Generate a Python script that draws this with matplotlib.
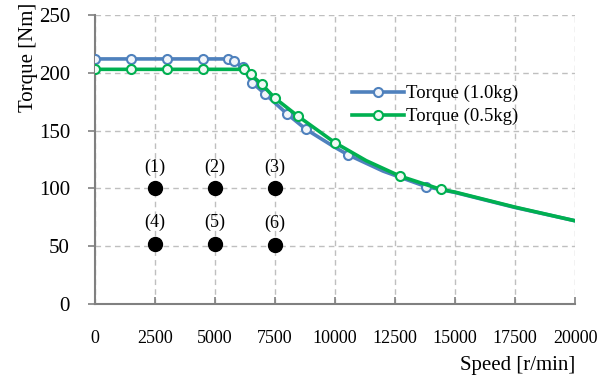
import matplotlib
matplotlib.use('Agg')
import matplotlib.pyplot as plt

# values
speed_10 = [0, 1500, 3000, 4500, 5550, 5800, 6150, 6550, 7100, 8000, 8800, 10000, 10550, 12000, 13800, 15000, 17500, 20000]
torque_10 = [212, 212, 212, 212, 212, 210, 205, 191.5, 181.5, 164.5, 151, 135.5, 129, 115, 101.5, 96.5, 83.5, 72]
marks_10 = [0, 1, 2, 3, 4, 5, 6, 7, 8, 9, 10, 12, 14]

speed_05 = [0, 1500, 3000, 4500, 6200, 6480, 6950, 7500, 8450, 10000, 11300, 12700, 14400, 15000, 17500, 20000]
torque_05 = [203, 203, 203, 203, 203, 198.7, 190, 178, 162.6, 139.5, 124, 110.7, 99.2, 96.8, 83.8, 72]
marks_05 = [0, 1, 2, 3, 4, 5, 6, 7, 8, 9, 11, 12]

pt_x = [2500, 5000, 7500, 2500, 5000, 7500]
pt_y = [100, 100, 100, 52, 52, 51]
pt_labels = ['(1)', '(2)', '(3)', '(4)', '(5)', '(6)']

plt.rcParams['font.family'] = ['Liberation Serif', 'DejaVu Serif']

fig = plt.figure(figsize=(6.06, 3.78), dpi=100)
ax = fig.add_axes([95/606, 1-304/378, 480/606, 289/378])

blue = '#4f81bd'
green = '#00b050'
ax.plot(speed_10, torque_10, color=blue, lw=2.6, marker='o', ms=6.5, mfc='#f2f5fa',
        mec=blue, mew=1.5, markevery=marks_10, label='Torque (1.0kg)', zorder=3)
ax.plot(speed_05, torque_05, color=green, lw=2.6, marker='o', ms=6.5, mfc='#f0faf4',
        mec=green, mew=1.5, markevery=marks_05, label='Torque (0.5kg)', zorder=4)

ax.plot(pt_x, pt_y, 'o', color='black', ms=10, zorder=5)
for x, y, t in zip(pt_x, pt_y, pt_labels):
    ax.text(x, y + 11, t, ha='center', va='bottom', fontsize=13)

ax.set_xlim(0, 20000)
ax.set_ylim(0, 250)
ax.set_xticks(range(0, 20001, 2500))
ax.set_yticks(range(0, 251, 50))
ax.grid(True, color='#bfbfbf', linestyle=(0, (4, 3)), lw=1.0)
ax.set_axisbelow(True)
for s in ['top', 'right']:
    ax.spines[s].set_visible(False)
for s in ['left', 'bottom']:
    ax.spines[s].set_color('#808080')
    ax.spines[s].set_linewidth(1.5)
ax.tick_params(axis='y', direction='out', length=5, color='#808080', width=1.2,
               labelsize=15, pad=13)
ax.tick_params(axis='x', direction='in', length=5, color='#808080', width=1.2,
               labelsize=13, pad=19)

ax.set_xlabel('Speed [r/min]', fontsize=15, loc='right', labelpad=6)
ax.set_ylabel('Torque [Nm]', fontsize=15, loc='top')
ax.yaxis.set_label_coords(-0.118, 1.042)

ax.legend(loc='upper left', bbox_to_anchor=(0.515, 0.79), frameon=False, fontsize=13.5,
          borderpad=0, handlelength=2.8, handletextpad=0.1, labelspacing=0.3)

fig.savefig('out.png', dpi=100)
